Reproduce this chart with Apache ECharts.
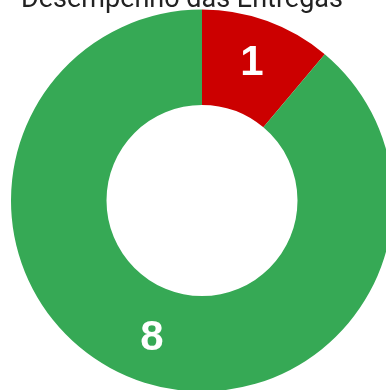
<!DOCTYPE html>
<html>
<head>
<meta charset="utf-8">
<script src="https://cdn.jsdelivr.net/npm/echarts@6/dist/echarts.min.js"></script>
<style>
  html, body { margin: 0; padding: 0; background: #fff; }
  #chart { width: 386px; height: 390px; }
</style>
</head>
<body>
<div id="chart"></div>
<script>
// Desempenho das Entregas
const categories = ['Atrasadas', 'No prazo']
const values = [1, 8]
const colors = ['#cc0000', '#36a955']

const chart = echarts.init(document.getElementById('chart'))
chart.setOption({
  animation: false,
  title: {
    text: 'Desempenho das Entregas',
    left: 16,
    top: -18,
    textStyle: {
      fontFamily: 'Roboto',
      fontSize: 27,
      fontWeight: 'normal',
      color: '#222'
    }
  },
  series: [
    {
      type: 'pie',
      center: [202, 200.5],
      radius: [95.5, 191],
      startAngle: 90,
      clockwise: true,
      color: colors,
      itemStyle: { borderWidth: 0 },
      label: {
        show: true,
        position: 'inside',
        formatter: '{c}',
        color: '#fff',
        fontFamily: 'Liberation Sans',
        fontWeight: 'bold',
        fontSize: 42
      },
      labelLine: { show: false },
      data: categories.map((name, i) => ({ name, value: values[i] }))
    }
  ]
})
</script>
</body>
</html>
